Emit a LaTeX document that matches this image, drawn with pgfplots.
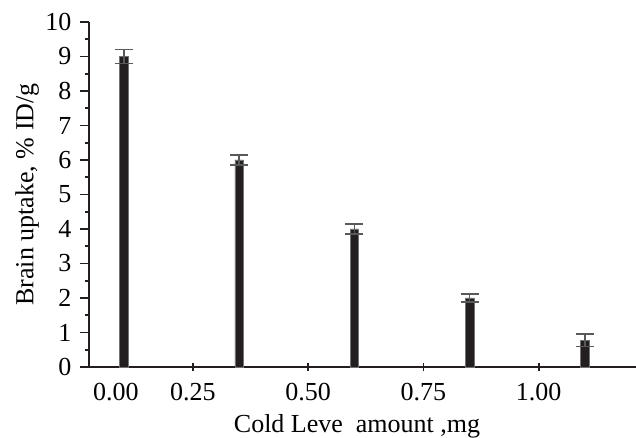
\documentclass[border=0pt]{standalone}
\usepackage{pgfplots}
\pgfplotsset{compat=1.18}
\usepackage{fontspec}
\setmainfont{Liberation Serif}
\definecolor{barfill}{RGB}{35,31,32}
\begin{document}
\fontsize{13}{15}\selectfont
\begin{tikzpicture}
\path[use as bounding box] (-44.5pt,-35.5pt) rectangle (273.5pt,183.5pt);
\begin{axis}[
  at={(0,0)}, anchor=south west,
  scale only axis, width=273.5pt, height=172.5pt,
  xmin=0.0245, xmax=1.211, ymin=0, ymax=10,
  axis x line*=bottom, axis y line*=left,
  axis line style={line width=0.8pt, color=barfill},
  /pgf/number format/assume math mode=true,
  xtick={0.25,0.5,0.75,1.0},
  xticklabels={0.25,0.50,0.75,1.00},
  extra x ticks={0.083},
  extra x tick labels={0.00},
  extra x tick style={major x tick style={draw=none}},
  x tick style={line width=0.8pt, color=barfill},
  xtick align=center,
  xticklabel style={yshift=-1.5pt},
  ytick={0,1,...,10},
  minor y tick num=1,
  y tick style={line width=0.8pt, color=barfill},
  ytick align=outside,
  major tick length=4.3pt, minor tick length=2pt,
  xlabel={Cold Leve\ \ amount ,mg},
  ylabel={Brain uptake, \% ID/g},
  xlabel style={at={(axis description cs:0.49,-0.172)}, anchor=center},
  ylabel style={at={(axis description cs:-0.113,0.5)}, anchor=center},
  clip=false,
]
\addplot[ybar, bar width=4.25pt, bar shift=0pt, fill=barfill, draw=black!55, line width=0.3pt,
  error bars/.cd, y dir=both, y explicit, error mark=|,
  error mark options={line width=0.7pt, color=black!65, mark size=4.5pt},
  error bar style={line width=0.7pt, color=black!65}]
  table[x=x, y=y, y error=e] {
x y e
0.1 9.0 0.2
0.35 6.0 0.15
0.6 4.0 0.15
0.85 2.0 0.12
1.1 0.78 0.18
};
\end{axis}
\end{tikzpicture}
\end{document}
